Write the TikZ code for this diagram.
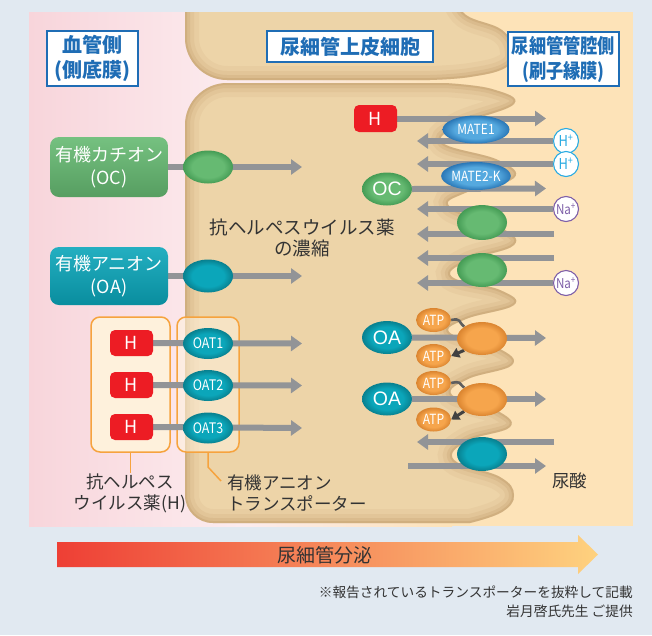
\documentclass[tikz,border=0pt]{standalone}
\usepackage{fontspec}
\setmainfont{Noto Sans CJK JP}
\newfontfamily\condfont[FakeStretch=0.86]{Noto Sans CJK JP}
\newfontfamily\roundfont{Liberation Sans}
\usetikzlibrary{arrows.meta,shapes.geometric,calc}

\definecolor{outerbg}{HTML}{E1E9F1}
\definecolor{pinkL}{HTML}{F8D5DB}
\definecolor{pinkR}{HTML}{FCECEF}
\definecolor{lumen}{HTML}{FDE3B8}
\definecolor{cellfill}{HTML}{EDD4A8}
\definecolor{celledge}{HTML}{9C6B35}
\definecolor{titleblue}{HTML}{1F6DB5}
\definecolor{arrowgray}{HTML}{929497}
\definecolor{darkgray}{HTML}{414141}
\definecolor{textdark}{HTML}{333333}
\definecolor{hred}{HTML}{ED1C24}
\definecolor{grpline}{HTML}{F6A33E}
\definecolor{grpfill}{HTML}{FEF1DC}
\definecolor{greenA}{HTML}{66BA72}
\definecolor{greenB}{HTML}{459C55}
\definecolor{tealA}{HTML}{0BA6BA}
\definecolor{tealB}{HTML}{08808F}
\definecolor{orangeA}{HTML}{F6A54C}
\definecolor{orangeB}{HTML}{DB8530}
\definecolor{blueA}{HTML}{55A9DF}
\definecolor{blueB}{HTML}{2A77B6}
\definecolor{hpcyan}{HTML}{29ABE2}
\definecolor{napurple}{HTML}{7E5FA8}
\definecolor{bandL}{HTML}{EE3F35}
\definecolor{bandM}{HTML}{F7943F}
\definecolor{bandR}{HTML}{FED27F}

% flat centre with a darker rim, used for the transporter ovals
\colorlet{rimA}{white}\colorlet{rimB}{black}
\pgfdeclareradialshading[rimA,rimB]{rim}{\pgfpoint{0bp}{0bp}}{color(0bp)=(rimA); color(16bp)=(rimA); color(25bp)=(rimB); color(50bp)=(rimB)}

\pgfdeclarelayer{back}
\pgfdeclarelayer{lines}
\pgfsetlayers{back,lines,main}

% outlines of the two tubular cells
\def\topcell{(185,-5) -- (185,38) .. controls (185,61) and (204,80) .. (227,80) -- (430,80) -- plot[smooth,tension=.7] coordinates {(430,80) (470,77) (505,68) (514,52) (502,30) (466,15) (455,-5)} -- cycle}
\def\maincell{(445,83) -- (227,83) .. controls (204,83) and (185,102) .. (185,125) -- (185,495) .. controls (185,510.5) and (197.5,523) .. (213,523) -- (470,523) -- plot[smooth,tension=.7] coordinates {(470,523) (502,512) (514,495) (500,477) (454,460) (467,441) (510,427) (496,410) (452,395) (468,379) (512,365) (498,348) (450,333) (466,319) (514,305) (500,290) (452,277) (467,261) (514,245) (500,227) (450,207) (465,193) (514,178) (498,160) (443,143) (460,125) (514,104) (492,89) (445,83)} -- cycle}

\tikzset{
  rimshade/.code 2 args={\colorlet{rimA}{#1}\colorlet{rimB}{#2}\tikzset{shade,shading=rim}},
  blob/.style={ellipse, inner sep=0pt, minimum width=50pt, minimum height=33pt},
  greenblob/.style={blob, rimshade={greenA}{greenB}},
  tealblob/.style={blob, rimshade={tealA}{tealB}},
  orangeblob/.style={blob, rimshade={orangeA}{orangeB}},
  mateblob/.style={blob, minimum width=67pt, minimum height=28pt, rimshade={blueA}{blueB}, text=white, font=\condfont\fontsize{14}{14}\selectfont},
  oatblob/.style={tealblob, minimum height=31pt, text=white, font=\condfont\fontsize{14.5}{14.5}\selectfont},
  ionblob/.style={blob, text=white, font=\roundfont\fontsize{19.5}{19.5}\selectfont},
  atpblob/.style={blob, minimum width=35pt, minimum height=24pt, rimshade={orangeA}{orangeB}, text=white, font=\condfont\fontsize{14}{14}\selectfont},
  hbox/.style={rectangle, rounded corners=5pt, fill=hred, text=white, minimum width=43pt, minimum height=26pt, inner sep=0pt, font=\fontsize{18}{18}\selectfont},
  ionbox/.style={rectangle, rounded corners=9pt, text=white, minimum width=118pt, inner sep=0pt, align=center, font=\fontsize{18}{23}\selectfont},
  titlebox/.style={rectangle, draw=titleblue, line width=1.6pt, fill=white, text=titleblue, inner sep=0pt, align=center, font=\fontsize{20}{25}\selectfont\bfseries},
  ioncircle/.style={circle, draw=#1, line width=1.1pt, fill=white, text=#1, minimum size=25pt, inner sep=0pt, font=\condfont\fontsize{15}{15}\selectfont},
  grpbox/.style={rectangle, rounded corners=9pt, draw=grpline, line width=1.5pt, inner sep=0pt},
  lbl/.style={inner sep=0pt, text=textdark, font=\fontsize{17.5}{21}\selectfont},
  grayarrow/.style={draw=arrowgray, line width=6pt, -{Triangle[length=11pt,width=15pt]}},
  atpline/.style={draw=darkgray!85, line width=2.6pt},
  atparrow/.style={draw=darkgray, line width=3pt, -{Triangle[length=8pt,width=10pt]}},
  bracket/.style={draw=grpline, line width=1.5pt}
}

\begin{document}
\begin{tikzpicture}[x=1pt,y=-1pt]
\useasboundingbox (0,0) rectangle (652,635);

% ---------- backdrop: blood side, cells, lumen ----------
\begin{pgfonlayer}{back}
  \fill[outerbg] (0,0) rectangle (652,635);
  \begin{scope}
    \clip (29,12) rectangle (633,526);
    \shade[left color=pinkL, right color=pinkR] (29,12) rectangle (240,526);
    \shade[left color=pinkR, right color=lumen] (240,12) rectangle (452,526);
    \fill[lumen] (451,12) rectangle (633,526);
    \fill[cellfill] \topcell;
    \fill[cellfill] \maincell;
    \begin{scope}
      \clip \topcell;
      \foreach \w/\o in {28/0.06,18/0.08,10/0.11,4/0.15}{\draw[line width=\w pt, celledge, opacity=\o] \topcell;}
    \end{scope}
    \begin{scope}
      \clip \maincell;
      \foreach \w/\o in {28/0.06,18/0.08,10/0.11,4/0.15}{\draw[line width=\w pt, celledge, opacity=\o] \maincell;}
    \end{scope}
  \end{scope}
  % groups of drugs and of transporters
  \node[grpbox, fill=grpfill, minimum width=79pt, minimum height=135pt] (grpH) at (130.5,384.5) {};
  \node[grpbox, fill=grpfill, fill opacity=0.55, draw opacity=1, minimum width=62pt, minimum height=135pt] (grpT) at (208,384.5) {};
\end{pgfonlayer}

% ---------- headings ----------
\node[titlebox, minimum width=91pt, minimum height=55pt] (ttlBlood) at (92.5,58.5) {血管側\\(側底膜)};
\node[titlebox, minimum width=166pt, minimum height=31pt] (ttlCell) at (350,46.5) {尿細管上皮細胞};
\node[titlebox, minimum width=111pt, minimum height=54pt, font=\condfont\fontsize{20}{25}\selectfont\bfseries] (ttlLumen) at (563.5,59) {尿細管管腔側\\(刷子縁膜)};

% ---------- basolateral uptake ----------
\node[ionbox, minimum height=60pt, top color=greenA!90!white, bottom color=greenA!85!black] (ocBox) at (109,167) {有機カチオン\\(OC)};
\node[greenblob] (ocIn) at (208,167) {};
\coordinate (ocEnd) at (302,167);

\node[ionbox, minimum height=58pt, top color=tealA!90!white, bottom color=tealA!85!black] (oaBox) at (109,276) {有機アニオン\\(OA)};
\node[tealblob] (oaIn) at (208,276) {};
\coordinate (oaEnd) at (302,276);

\node[hbox] (h1) at (131.5,343) {H};
\node[hbox] (h2) at (131.5,385) {H};
\node[hbox] (h3) at (131.5,427) {H};
\node[oatblob] (oat1) at (208,343.5) {OAT1};
\node[oatblob] (oat2) at (208,385.5) {OAT2};
\node[oatblob] (oat3) at (208,428) {OAT3};
\coordinate (e1) at (302,343.5);
\coordinate (e2) at (302,385.5);
\coordinate (e3) at (302,428);

\node[lbl, align=center] (lblH) at (130,493) {抗ヘルペス\\ウイルス薬(H)};
\node[lbl, align=left, anchor=west] (lblT) at (227,493) {有機アニオン\\トランスポーター};
\coordinate (bendT) at (208,467);
\coordinate (endT) at (221,481);

\node[lbl, align=center, font=\fontsize{18.5}{21.5}\selectfont] (conc) at (302,238) {抗ヘルペスウイルス薬\\の濃縮};

% ---------- apical (brush border) transport ----------
\node[hbox, minimum height=27pt] (hR) at (375.5,118.5) {H};
\coordinate (hREnd) at (546,118.5);
\node[ioncircle=hpcyan] (hp1) at (566,141) {H\textsuperscript{+}};
\node[ioncircle=hpcyan] (hp2) at (566,164) {H\textsuperscript{+}};
\coordinate (hp1End) at (417,141);
\coordinate (hp2End) at (417,164);
\node[mateblob] (mate1) at (476,129.5) {MATE1};
\node[mateblob] (mate2) at (476,176) {MATE2-K};
\node[greenblob, ionblob, rimshade={greenA}{greenB}] (ocR) at (387,189) {OC};
\coordinate (ocREnd) at (546,188.5);

\node[ioncircle=napurple, font=\condfont\fontsize{13.5}{13.5}\selectfont] (na1) at (566,209) {Na\textsuperscript{+}};
\node[ioncircle=napurple, font=\condfont\fontsize{13.5}{13.5}\selectfont] (na2) at (566,283) {Na\textsuperscript{+}};
\coordinate (na1End) at (417,209);
\coordinate (na2End) at (417,283);
\coordinate (lA) at (554,234);
\coordinate (lAEnd) at (417,234);
\coordinate (lB) at (554,258);
\coordinate (lBEnd) at (417,258);
\node[greenblob, minimum height=35pt] (g1) at (482,222.5) {};
\node[greenblob, minimum height=34pt] (g2) at (482,270) {};

\node[atpblob] (atp1) at (433.5,320) {ATP};
\node[atpblob] (atp2) at (433.5,356) {ATP};
\node[atpblob] (atp3) at (433.5,383) {ATP};
\node[atpblob] (atp4) at (433.5,419.5) {ATP};
\node[ionblob, rimshade={tealA}{tealB}] (oa1) at (387,337.5) {OA};
\node[ionblob, rimshade={tealA}{tealB}] (oa2) at (387,399) {OA};
\node[orangeblob] (or1) at (482,338.5) {};
\node[orangeblob] (or2) at (482,399.5) {};
\coordinate (oa1End) at (546,338);
\coordinate (oa2End) at (546,399);

\coordinate (uA) at (554,442);
\coordinate (uAEnd) at (417,442);
\coordinate (uB) at (408,466);
\coordinate (uBEnd) at (546,466);
\node[tealblob, minimum height=34pt] (urt) at (482,454) {};
\node[lbl] (urate) at (569.5,481) {尿酸};

% ---------- connectors ----------
\begin{pgfonlayer}{lines}
  \draw[grayarrow] (ocBox.east) -- (ocEnd);
  \draw[grayarrow] (oaBox.east) -- (oaEnd);
  \draw[grayarrow] (h1.east) -- (e1);
  \draw[grayarrow] (h2.east) -- (e2);
  \draw[grayarrow] (h3.east) -- (e3);
  \draw[bracket] (grpH.south) -- (grpH.south |- lblH.north);
  \draw[bracket] (grpT.south) -- (bendT) -- (endT);

  \draw[grayarrow] (hR.east) -- (hREnd);
  \draw[grayarrow] (hp1.west) -- (hp1End);
  \draw[grayarrow] (hp2.west) -- (hp2End);
  \draw[grayarrow] (ocR.east) -- (ocREnd);
  \draw[grayarrow] (na1.west) -- (na1End);
  \draw[grayarrow] (lA) -- (lAEnd);
  \draw[grayarrow] (lB) -- (lBEnd);
  \draw[grayarrow] (na2.west) -- (na2End);
  \draw[grayarrow] (oa1.east) -- (oa1End);
  \draw[grayarrow] (oa2.east) -- (oa2End);
  \draw[grayarrow] (uA) -- (uAEnd);
  \draw[grayarrow] (uB) -- (uBEnd);

  \draw[atpline] (atp1.east) .. controls +(10,-2) and +(-6,-5) .. (or1.north west);
  \draw[atpline] (atp3.east) .. controls +(10,-2) and +(-6,-5) .. (or2.north west);
  \draw[atparrow] (or1.south west) -- (atp2.east);
  \draw[atparrow] (or2.south west) -- (atp4.east);
\end{pgfonlayer}

% ---------- secretion band and notes ----------
\shade[left color=bandL, middle color=bandM, right color=bandR]
  (57,542) -- (578,542) -- (578,535) -- (598,554.5) -- (578,574) -- (578,567) -- (57,567) -- cycle;
\node[lbl, font=\fontsize{19}{19}\selectfont] (secretion) at (325,555) {尿細管分泌};
\node[lbl, anchor=east, align=right, font=\fontsize{13.7}{19}\selectfont] (note) at (633,602) {※報告されているトランスポーターを抜粋して記載\\岩月啓氏先生 ご提供};
\end{tikzpicture}
\end{document}
